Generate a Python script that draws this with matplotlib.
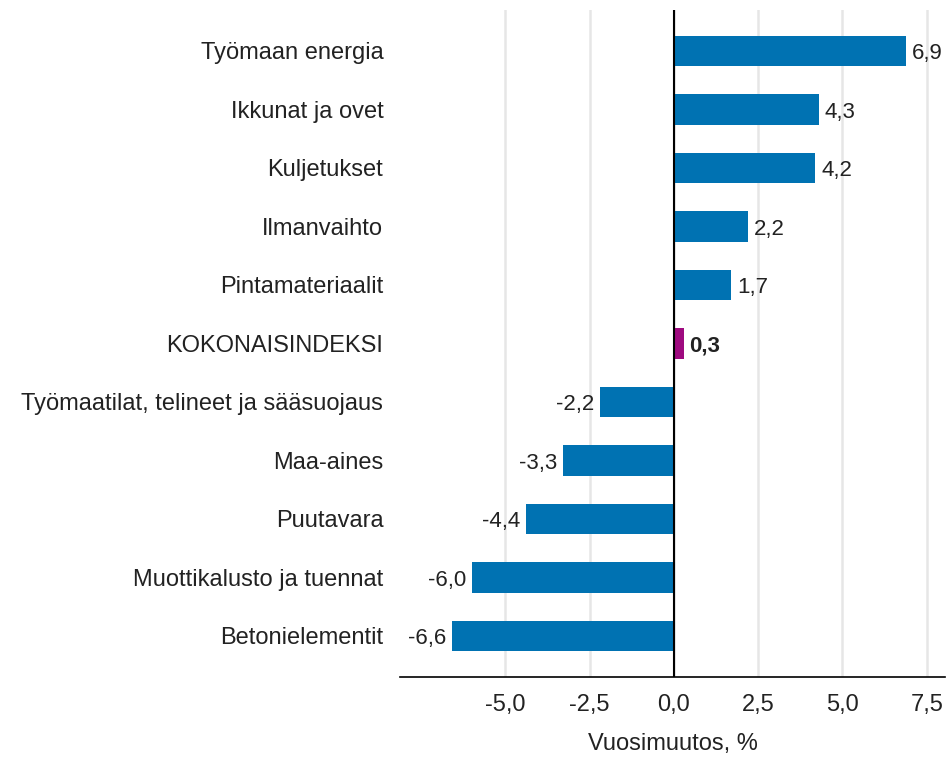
import matplotlib
matplotlib.use("Agg")
from matplotlib import pyplot as plt
from matplotlib.ticker import FuncFormatter

plt.rcParams['font.family'] = ['Liberation Sans', 'DejaVu Sans']

categories = ['Työmaan energia', 'Ikkunat ja ovet', 'Kuljetukset', 'Ilmanvaihto',
              'Pintamateriaalit', 'KOKONAISINDEKSI',
              'Työmaatilat, telineet ja sääsuojaus', 'Maa-aines', 'Puutavara',
              'Muottikalusto ja tuennat', 'Betonielementit']
values = [6.9, 4.3, 4.2, 2.2, 1.7, 0.3, -2.2, -3.3, -4.4, -6.0, -6.6]
highlight = 'KOKONAISINDEKSI'
xticks = [-5.0, -2.5, 0.0, 2.5, 5.0, 7.5]

blue = '#0072b2'
purple = '#9e0a7f'
text_col = '#222222'


def fmt(v):
    return ('%.1f' % v).replace('.', ',')


fig = plt.figure(figsize=(9.5, 7.58), dpi=100)
ax = fig.add_axes([0.421, 0.107, 0.574, 0.88])

ypos = list(range(len(categories)))[::-1]
colors = [purple if c == highlight else blue for c in categories]
ax.barh(ypos, values, height=0.52, color=colors, zorder=3)

# value labels next to bar ends
for y, v, c in zip(ypos, values, categories):
    weight = 'bold' if c == highlight else 'normal'
    if v >= 0:
        ax.annotate(fmt(v), (v, y), xytext=(4, -2), textcoords='offset points',
                    ha='left', va='center', fontsize=16, color=text_col,
                    fontweight=weight)
    else:
        ax.annotate(fmt(v), (v, y), xytext=(-4, -2), textcoords='offset points',
                    ha='right', va='center', fontsize=16, color=text_col,
                    fontweight=weight)

ax.set_xlim(-8.13, 8.05)
ax.set_ylim(-0.7, 10.7)
ax.set_xticks(xticks)
ax.xaxis.set_major_formatter(FuncFormatter(lambda v, p: fmt(v)))
ax.set_yticks(ypos)
ax.set_yticklabels(categories)
ax.tick_params(axis='y', length=0, pad=12, labelsize=17, labelcolor=text_col)
ax.tick_params(axis='x', length=0, pad=12.5, labelsize=17, labelcolor=text_col)

ax.grid(axis='x', color='#e6e6e6', linewidth=1.8, zorder=0)
ax.axvline(0, color='black', linewidth=1.5, zorder=4)

for s in ['top', 'right', 'left']:
    ax.spines[s].set_visible(False)
ax.spines['bottom'].set_color('black')
ax.spines['bottom'].set_linewidth(1.2)

ax.set_xlabel('Vuosimuutos, %', fontsize=17, color=text_col, labelpad=12)

fig.savefig('out.png', dpi=100)
